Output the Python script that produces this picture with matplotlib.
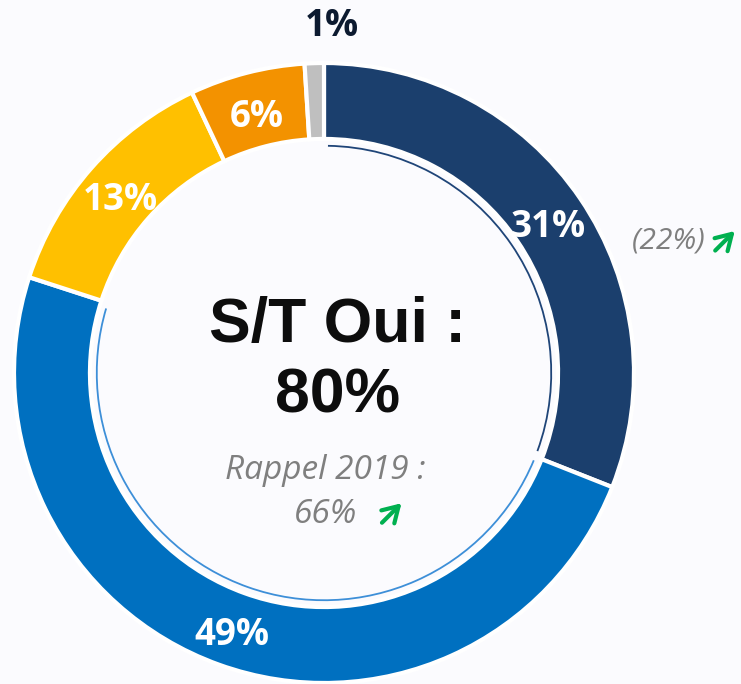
import matplotlib
matplotlib.use("Agg")
import matplotlib.pyplot as plt
from matplotlib.patches import Arc
import numpy as np

# data
shares = [31, 49, 13, 6, 1]
colors = ["#1b3f6d", "#0070c0", "#ffc000", "#f39200", "#bfbfbf"]
label_colors = ["white", "white", "white", "white", "#0c1a30"]
center_title = "S/T Oui :\n80%"
recall_text = "Rappel 2019 :"
recall_value = "66%"
prev_navy = "(22%)"

bg = "#fbfbfe"
green = "#00b050"
grey_txt = "#7f7f7f"

fig = plt.figure(figsize=(7.41, 6.84), dpi=100, facecolor=bg)
ax = fig.add_axes([0, 0, 1, 1])
ax.set_facecolor(bg)

wedges, _, autotexts = ax.pie(
    shares, colors=colors, startangle=90, counterclock=False,
    radius=1.0, autopct="%d%%", pctdistance=0.875,
    wedgeprops=dict(width=0.245, edgecolor="white", linewidth=3),
    textprops=dict(fontfamily="Open Sans", fontweight="bold", fontsize=26.5),
)

for t, c in zip(autotexts, label_colors):
    t.set_color(c)
    x, y = t.get_position()
    t.set_position((x, y - 0.022))

# small slice label sits outside the ring
w = wedges[-1]
mid = np.deg2rad((w.theta1 + w.theta2) / 2)
autotexts[-1].set_position((1.13 * np.cos(mid) + 0.06, 1.13 * np.sin(mid) - 0.01))

# thin inner arcs under the two main segments
arc_colors = ["#1f4578", "#3d8fd8"]
for w, c in zip(wedges[:2], arc_colors):
    ax.add_patch(Arc((0, 0), 2 * 0.733, 2 * 0.733, theta1=w.theta1 + 1.5,
                     theta2=w.theta2 - 1.0, color=c, lw=1.3))

arrow = dict(arrowstyle="->,head_length=0.5,head_width=0.3", color=green,
             lw=3, mutation_scale=22, shrinkA=0, shrinkB=0)

# centre text
ax.text(0.043, 0.04, center_title, ha="center", va="center", fontsize=45,
        fontweight="bold", fontfamily="Liberation Sans", color="#0d0d0d",
        linespacing=1.25)
ax.text(0.003, -0.316, recall_text, ha="center", va="center", fontsize=24,
        style="italic", fontfamily="Open Sans", color=grey_txt)
ax.text(0.006, -0.455, recall_value, ha="center", va="center", fontsize=24,
        style="italic", fontfamily="Open Sans", color=grey_txt)
ax.annotate("", xy=(0.25, -0.42), xytext=(0.187, -0.483), arrowprops=arrow)

ax.text(1.113, 0.426, prev_navy, ha="center", va="center", fontsize=21.5,
        style="italic", fontfamily="Open Sans", color=grey_txt)
ax.annotate("", xy=(1.325, 0.458), xytext=(1.262, 0.395), arrowprops=arrow)

ax.set_aspect("equal")
ax.set_xlim(-324 / 310, (741 - 324) / 310)
ax.set_ylim(-(684 - 373) / 310, 373 / 310)
ax.axis("off")

fig.savefig("out.png", dpi=100, facecolor=bg)
